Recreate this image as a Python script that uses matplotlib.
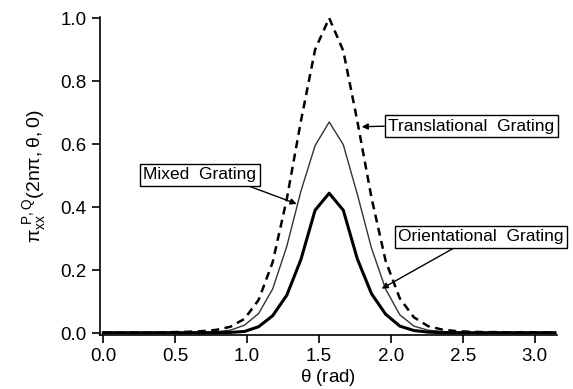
import numpy as np
import matplotlib
matplotlib.use("Agg")
import matplotlib.pyplot as plt

plt.rcParams['font.family'] = ['Liberation Sans', 'DejaVu Sans']
plt.rcParams['mathtext.fontset'] = 'custom'
plt.rcParams['mathtext.rm'] = 'Liberation Sans'
plt.rcParams['mathtext.default'] = 'regular'

# theta samples (rad), k*pi/32
theta = [0.000, 0.098, 0.196, 0.295, 0.393, 0.491, 0.589, 0.687, 0.785, 0.884,
         0.982, 1.080, 1.178, 1.276, 1.374, 1.473, 1.571, 1.669, 1.767, 1.865,
         1.963, 2.062, 2.160, 2.258, 2.356, 2.454, 2.553, 2.651, 2.749, 2.847,
         2.945, 3.043, 3.142]

translational = [0.002, 0.001, 0.002, 0.001, 0.002, 0.003, 0.004, 0.006, 0.010, 0.020,
                 0.045, 0.105, 0.225, 0.425, 0.672, 0.900, 1.000, 0.896, 0.672, 0.430,
                 0.230, 0.110, 0.050, 0.022, 0.011, 0.006, 0.004, 0.003, 0.003, 0.002,
                 0.003, 0.002, 0.002]

mixed = [0.002, 0.002, 0.001, 0.002, 0.002, 0.002, 0.002, 0.003, 0.004, 0.009,
         0.025, 0.062, 0.140, 0.275, 0.450, 0.595, 0.670, 0.598, 0.440, 0.270,
         0.140, 0.058, 0.022, 0.009, 0.005, 0.003, 0.002, 0.002, 0.002, 0.002,
         0.002, 0.002, 0.002]

orientational = [0.001, 0.001, 0.001, 0.001, 0.001, 0.001, 0.001, 0.001, 0.001, 0.002,
                 0.005, 0.020, 0.055, 0.120, 0.233, 0.390, 0.444, 0.390, 0.235, 0.125,
                 0.060, 0.022, 0.008, 0.003, 0.001, 0.001, 0.001, 0.001, 0.001, 0.001,
                 0.001, 0.001, 0.001]

fig = plt.figure(figsize=(5.73, 3.89), dpi=100)
ax = fig.add_axes([0.1745, 0.139, 0.7975, 0.817])

ax.plot(theta, translational, color='black', lw=1.8, ls=(0, (3.2, 2.2)))
ax.plot(theta, mixed, color='#333333', lw=1.0, ls='-')
ax.plot(theta, orientational, color='black', lw=2.2, ls='-')

ax.set_xlim(-0.023, 3.155)
ax.set_ylim(-0.006, 1.003)
ax.set_xticks([0.0, 0.5, 1.0, 1.5, 2.0, 2.5, 3.0])
ax.set_yticks([0.0, 0.2, 0.4, 0.6, 0.8, 1.0])
ax.xaxis.set_major_formatter(matplotlib.ticker.FormatStrFormatter('%.1f'))
ax.yaxis.set_major_formatter(matplotlib.ticker.FormatStrFormatter('%.1f'))
ax.spines['top'].set_visible(False)
ax.spines['right'].set_visible(False)
ax.spines['left'].set_linewidth(1.2)
ax.spines['bottom'].set_linewidth(1.2)
ax.tick_params(direction='out', length=6, width=1.2, labelsize=13.5)

ax.set_xlabel(r'$\theta$ (rad)', fontsize=13.5, labelpad=1)
ax.set_ylabel(r'$\pi_{xx}^{\ P,Q}(2n\pi,\theta,0)$', fontsize=14, labelpad=8)

box = dict(boxstyle='square,pad=0.2', fc='white', ec='black', lw=1.0)
arrow = dict(arrowstyle='-|>', color='black', lw=1.0, mutation_scale=9, shrinkA=0, shrinkB=0)

ax.annotate('Translational  Grating', xy=(1.797, 0.655), xytext=(2.56, 0.657),
            ha='center', va='center', fontsize=12.5, bbox=box,
            arrowprops=dict(arrow, relpos=(0.0, 0.5)))
ax.annotate('Mixed  Grating', xy=(1.345, 0.41), xytext=(0.672, 0.503),
            ha='center', va='center', fontsize=12.5, bbox=box,
            arrowprops=dict(arrow, relpos=(0.84, 0.0)))
ax.annotate('Orientational  Grating', xy=(1.936, 0.141), xytext=(2.625, 0.305),
            ha='center', va='center', fontsize=12.5, bbox=box,
            arrowprops=dict(arrow, relpos=(0.376, 0.0)))

fig.savefig('out.png', dpi=100)
